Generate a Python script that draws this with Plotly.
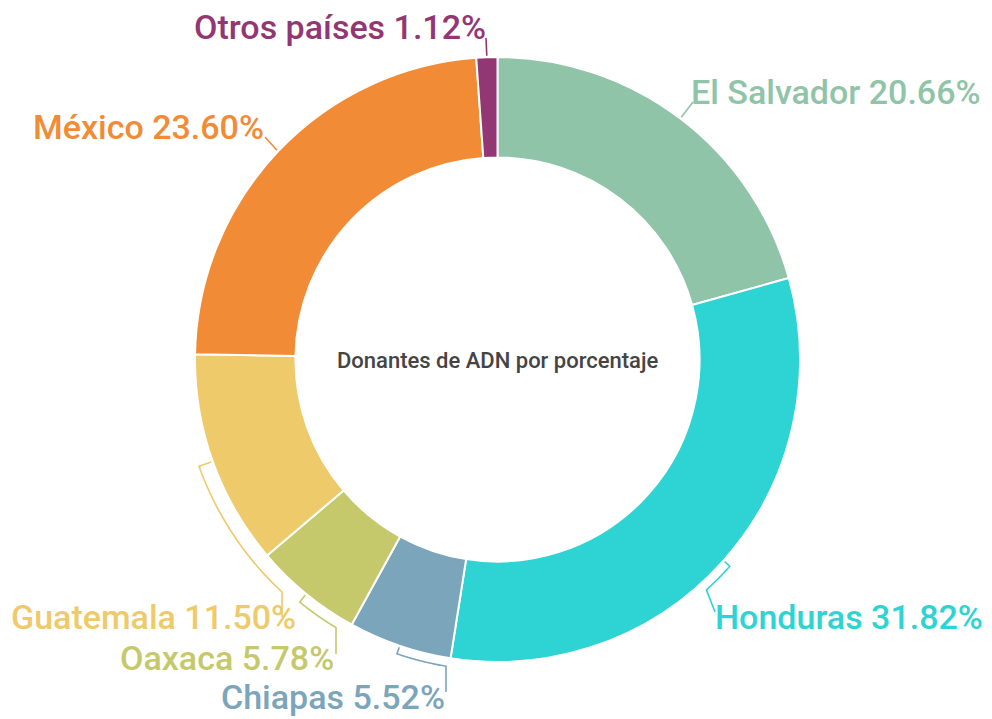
import math
import plotly.graph_objects as go

# ---- data ----
countries = ["El Salvador", "Honduras", "Chiapas", "Oaxaca", "Guatemala", "México", "Otros países"]
shares = [20.66, 31.82, 5.52, 5.78, 11.50, 23.60, 1.12]
colors = ["#8FC4A8", "#2ED3D3", "#7BA5BB", "#C5C96C", "#EFCA6B", "#F28B36", "#933774"]
center_title = "Donantes de ADN por porcentaje"

# ---- layout config (pixels in the screenshot) ----
PAGE_OFF = 8  # browser body margin
W, H = 992 - PAGE_OFF, 719 - PAGE_OFF
CX, CY, R_OUT = 497.5, 359.5, 302.5
HOLE = 0.668
LABEL_SIZE = 34
# label placement: (x, y, xanchor, arc_end_angle_deg or None, attach_x, attach_y)
label_cfg = {
    "El Salvador": (689, 92, "left", None, 693, 102),
    "Honduras": (713, 617, "left", 137.8, 715, 612),
    "Chiapas": (447, 697, "right", None, 446, 692),
    "Oaxaca": (336, 658, "right", None, 336, 654),
    "Guatemala": (9, 617, "left", None, 282, 617),
    "México": (266, 127, "right", None, 265, 137),
    "Otros países": (488, 27, "right", None, 486, 38),
}
arc_r = {"Honduras": 311, "Chiapas": 311, "Oaxaca": 313, "Guatemala": 317}


def px(x):
    return (x - PAGE_OFF) / W


def py(y):
    return 1 - (y - PAGE_OFF) / H


def pt(theta_deg, r):
    t = math.radians(theta_deg)
    return CX + r * math.sin(t), CY - r * math.cos(t)


fig = go.Figure()
fig.add_trace(go.Pie(
    labels=countries, values=shares, sort=False, direction="clockwise", rotation=0,
    hole=HOLE, marker=dict(colors=colors, line=dict(color="white", width=2)),
    textinfo="none", textposition="none", showlegend=False,
    domain=dict(x=[px(CX - R_OUT), px(CX + R_OUT)], y=[py(CY + R_OUT), py(CY - R_OUT)]),
    hovertemplate="%{label}: %{value:.2f}%<extra></extra>",
))

total = sum(shares)
cum = 0.0
shapes = []
annotations = []
for name, val, col in zip(countries, shares, colors):
    mid = (cum + val / 2) / total * 360
    cum += val
    lx, ly, anchor, th_end, ax, ay = label_cfg[name]
    x0, y0 = pt(mid, R_OUT + 1.5)
    pts = [(x0, y0)]
    if name in arc_r:
        r = arc_r[name]
        if th_end is None:
            s = max(-1, min(1, (ax - CX) / r))
            th_end = 180 - math.degrees(math.asin(s))
        n = 40
        for i in range(n + 1):
            th = mid + (th_end - mid) * i / n
            pts.append(pt(th, r))
    pts.append((ax, ay))
    path = "M " + " L ".join(f"{px(x):.5f},{py(y):.5f}" for x, y in pts)
    shapes.append(dict(type="path", path=path, xref="paper", yref="paper",
                       line=dict(color=col, width=1.6), fillcolor="rgba(0,0,0,0)"))
    annotations.append(dict(
        x=px(lx), y=py(ly), xref="paper", yref="paper", xanchor=anchor, yanchor="middle",
        text=f"{name} {val:.2f}%", showarrow=False,
        font=dict(family="Roboto", size=LABEL_SIZE, color=col, weight=500),
    ))

annotations.append(dict(
    x=px(CX), y=py(CY + 1), xref="paper", yref="paper", xanchor="center", yanchor="middle",
    text=center_title, showarrow=False,
    font=dict(family="Roboto", size=22, color="#444444", weight=500),
))

fig.update_layout(
    width=W, height=H, margin=dict(l=0, r=0, t=0, b=0),
    paper_bgcolor="white", plot_bgcolor="white",
    shapes=shapes, annotations=annotations,
)
fig.write_html("out.html")
